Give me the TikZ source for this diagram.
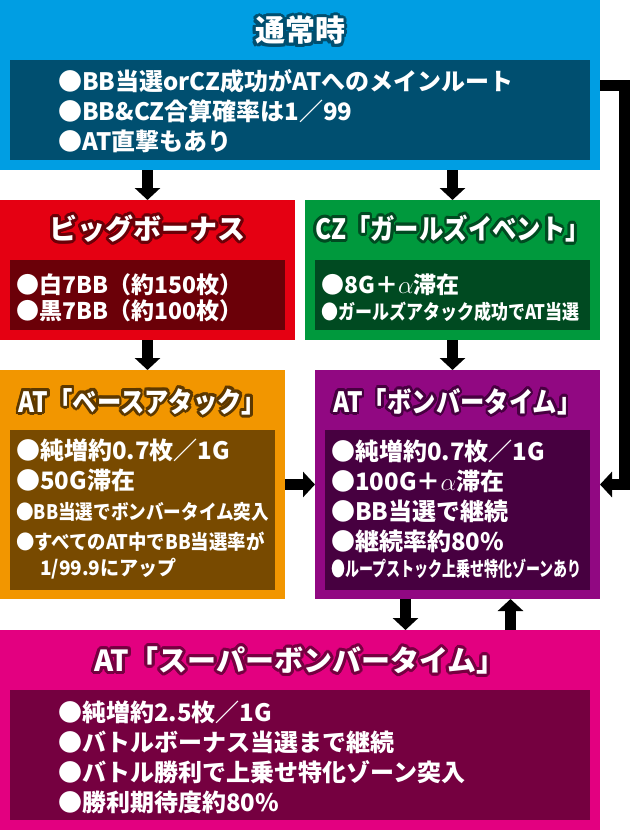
\documentclass[tikz,border=0pt]{standalone}
\usepackage{fontspec}
\usepackage{graphicx}
\usepackage{contour}
\setmainfont{Noto Sans CJK JP}
\usetikzlibrary{arrows.meta}
\contourlength{3pt}
\contournumber{16}

\definecolor{normalfill}{rgb}{0,0.62,0.89}
\definecolor{normaldark}{rgb}{0,0.31,0.44}
\definecolor{bbfill}{rgb}{0.9,0,0.07}
\definecolor{bbdark}{rgb}{0.42,0,0.03}
\definecolor{czfill}{rgb}{0,0.6,0.24}
\definecolor{czdark}{rgb}{0,0.29,0.13}
\definecolor{basefill}{rgb}{0.95,0.59,0}
\definecolor{basedark}{rgb}{0.47,0.29,0}
\definecolor{baserim}{rgb}{0.36,0.22,0}
\definecolor{bomberfill}{rgb}{0.57,0.03,0.51}
\definecolor{bomberdark}{rgb}{0.28,0,0.25}
\definecolor{superfill}{rgb}{0.89,0,0.5}
\definecolor{superdark}{rgb}{0.46,0,0.25}

\newcommand{\narrow}[2][0.85]{\scalebox{#1}[1]{#2}}

\begin{document}
\begin{tikzpicture}[x=1pt, y=-1pt, >=Triangle, line join=miter]
		 \tikzstyle{box} = [rectangle, anchor=north west, inner sep=0pt, outer sep=0pt];
		 \tikzstyle{title} = [text=white, inner sep=0pt, font=\fontsize{28}{28}\selectfont\bfseries];
		 \tikzstyle{lines} = [anchor=west, align=left, text=white, inner sep=0pt, font=\fontsize{24}{30}\selectfont\bfseries];
		 \tikzstyle{arr} = [line width=11pt, -{Triangle[width=25pt, length=12pt]}];

		 \useasboundingbox (0,0) rectangle (630,830);

		 % 通常時
		 \node [box, fill=normalfill, minimum width=600pt, minimum height=170pt] (normal) at (0,0) {};
		 \node [title, font=\fontsize{30}{30}\selectfont\bfseries] (normal-title) at (300,32) {\contour{normaldark}{通常時}};
		 \node [box, fill=normaldark, minimum width=580pt, minimum height=100pt] (normal-panel) at (10,60) {};
		 \node [lines] (normal-text) at (58,111) {●BB当選orCZ成功がATへのメインルート\\●BB\&CZ合算確率は1／99\\●AT直撃もあり};

		 % ビッグボーナス
		 \node [box, fill=bbfill, minimum width=295pt, minimum height=140pt] (bb) at (0,200) {};
		 \node [title] (bb-title) at (147.5,230) {\contour{bbdark}{ビッグボーナス}};
		 \node [box, fill=bbdark, minimum width=275pt, minimum height=70pt] (bb-panel) at (10,260) {};
		 \node [lines, font=\fontsize{23}{26}\selectfont\bfseries] (bb-text) at (16,297.5) {●白7BB（約150枚）\\●黒7BB（約100枚）};

		 % CZ
		 \node [box, fill=czfill, minimum width=295pt, minimum height=140pt] (cz) at (305,200) {};
		 \node [title] (cz-title) at (452.5,230) {\narrow[0.87]{\contour{czdark}{CZ「ガールズイベント」}}};
		 \node [box, fill=czdark, minimum width=275pt, minimum height=70pt] (cz-panel) at (315,260) {};
		 \node [lines, font=\fontsize{23}{26}\selectfont\bfseries] (cz-text) at (321,297.5) {●8G＋$\alpha$滞在\\{\fontsize{20}{26}\selectfont\narrow{●ガールズアタック成功でAT当選}}};

		 % AT ベースアタック
		 \node [box, fill=basefill, minimum width=285pt, minimum height=229pt] (base) at (0,370) {};
		 \node [title] (base-title) at (142.5,403) {\narrow[0.87]{\contour{baserim}{AT「ベースアタック」}}};
		 \node [box, fill=basedark, minimum width=265pt, minimum height=160pt] (base-panel) at (10,430) {};
		 \node [lines] (base-text) at (16,509.5) {●純増約0.7枚／1G\\●50G滞在\\{\fontsize{20}{30}\selectfont\narrow[0.88]{●BB当選でボンバータイム突入}}\\{\fontsize{20}{30}\selectfont\narrow[0.92]{●すべてのAT中でBB当選率が}}\\[-4pt]{\fontsize{20}{30}\selectfont\hspace*{24pt}\narrow[0.95]{1/99.9にアップ}}};

		 % AT ボンバータイム
		 \node [box, fill=bomberfill, minimum width=285pt, minimum height=229pt] (bomber) at (315,370) {};
		 \node [title] (bomber-title) at (457.5,403) {\narrow[0.87]{\contour{bomberdark}{AT「ボンバータイム」}}};
		 \node [box, fill=bomberdark, minimum width=265pt, minimum height=160pt] (bomber-panel) at (325,430) {};
		 \node [lines] (bomber-text) at (331,509.5) {●純増約0.7枚／1G\\●100G＋$\alpha$滞在\\●BB当選で継続\\●継続率約80\%\\[-4pt]{\fontsize{20}{30}\selectfont\narrow[0.70]{●ループストック上乗せ特化ゾーンあり}}};

		 % AT スーパーボンバータイム
		 \node [box, fill=superfill, minimum width=600pt, minimum height=200pt] (super) at (0,630) {};
		 \node [title, font=\fontsize{29}{29}\selectfont\bfseries] (super-title) at (300,662) {\contour{superdark}{AT「スーパーボンバータイム」}};
		 \node [box, fill=superdark, minimum width=580pt, minimum height=130pt] (super-panel) at (10,690) {};
		 \node [lines] (super-text) at (58,757) {●純増約2.5枚／1G\\●バトルボーナス当選まで継続\\●バトル勝利で上乗せ特化ゾーン突入\\●勝利期待度約80\%};

		 % arrows
		 \draw [arr] (bb.north |- normal.south) -- (bb.north);
		 \draw [arr] (cz.north |- normal.south) -- (cz.north);
		 \draw [arr] (bb.south) -- (bb.south |- base.north);
		 \draw [arr] (cz.south) -- (cz.south |- bomber.north);
		 \draw [arr] (base.east) -- (bomber.west |- base.east);
		 \draw [arr] (normal.east) -- ++(24,0) |- (bomber.east);
		 \draw [arr] ([xshift=-52pt]bomber.south) -- ([xshift=-52pt]bomber.south |- super.north);
		 \draw [arr] ([xshift=53pt]bomber.south |- super.north) -- ([xshift=53pt]bomber.south);
\end{tikzpicture}
\end{document}
